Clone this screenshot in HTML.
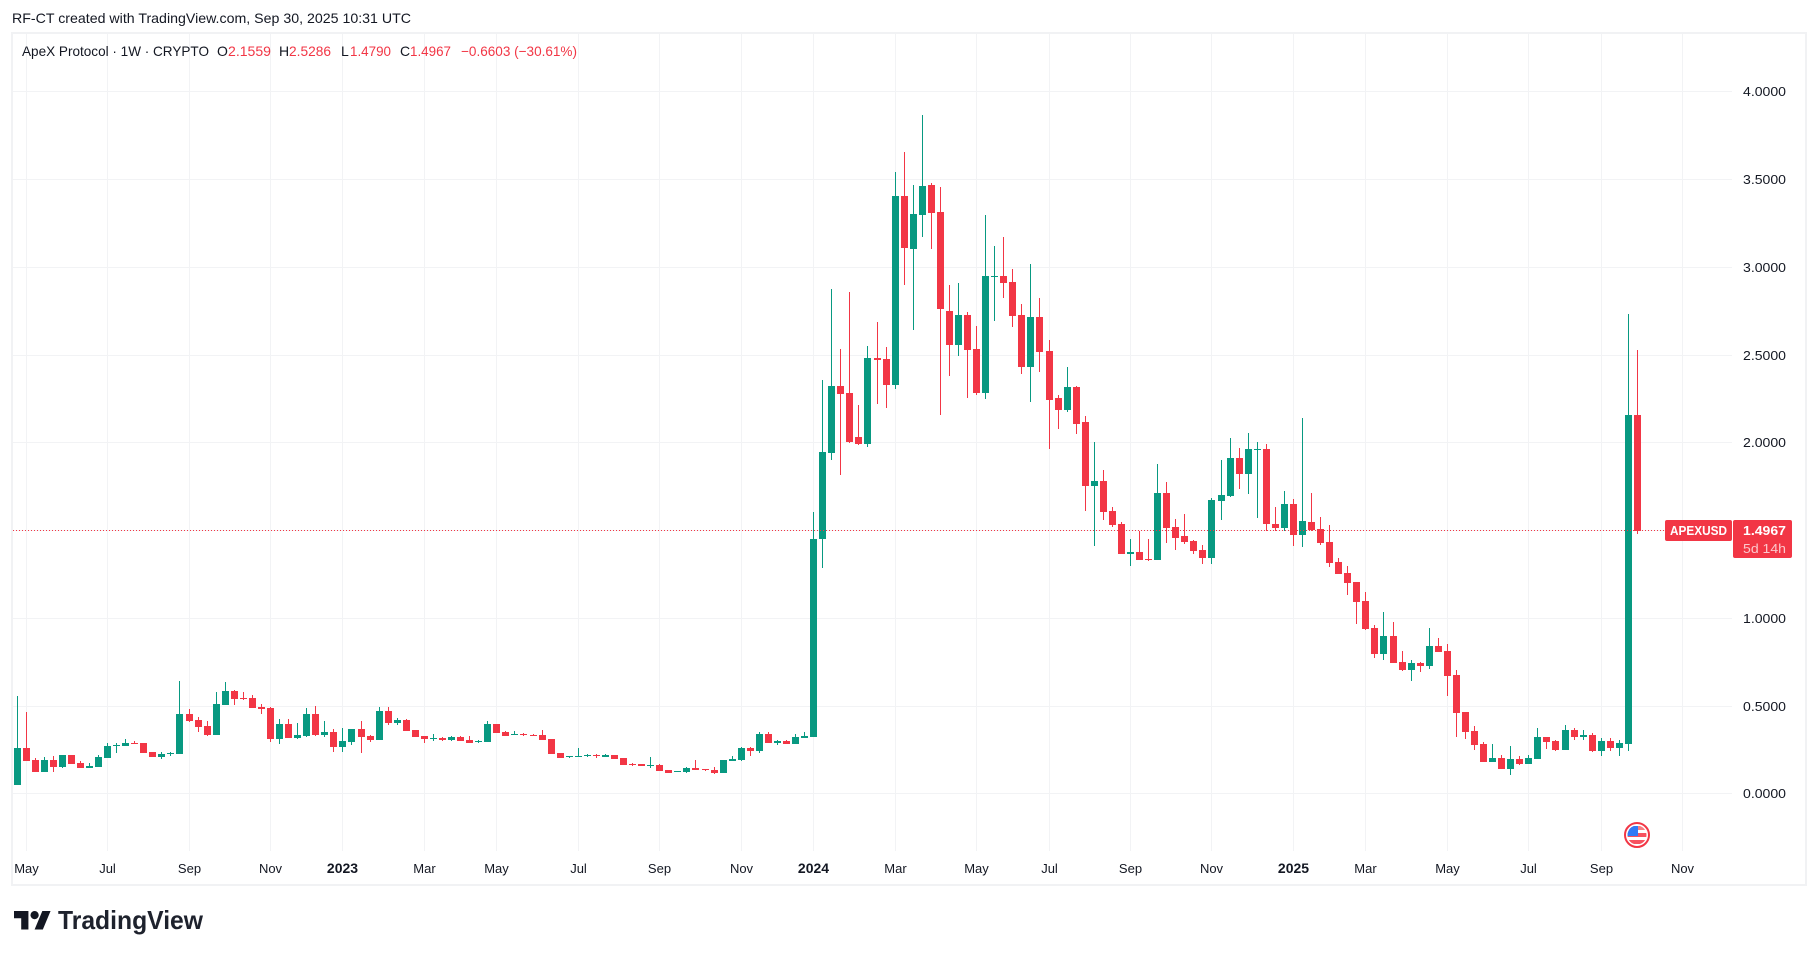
<!DOCTYPE html>
<html lang="en">
<head>
<meta charset="utf-8">
<title>ApeX Protocol 1W chart</title>
<style>
html,body{margin:0;padding:0;background:#fff;width:1818px;height:957px;overflow:hidden}
svg{display:block;font-family:"Liberation Sans",Arial,sans-serif}
text{fill:#131722;font-size:13px}
.hdr{font-size:14px}
</style>
</head>
<body>
<svg id="chart" xmlns="http://www.w3.org/2000/svg" width="1818" height="957" viewBox="0 0 1818 957">
  <rect x="0" y="0" width="1818" height="957" fill="#ffffff"/>
  <text class="hdr" x="12" y="23" textLength="399" lengthAdjust="spacingAndGlyphs">RF-CT created with TradingView.com, Sep 30, 2025 10:31 UTC</text>

  <rect x="12" y="33" width="1794" height="852" fill="none" stroke="#f1f2f4" stroke-width="2"/>

  <g id="grid"></g>
  <g id="candles"></g>
  <line id="price-line" x1="13" x2="1665" stroke="#f23645" stroke-width="1" stroke-dasharray="1 2"/>
  <g id="y-axis"></g>
  <g id="x-axis"></g>

  <g>
    <text class="hdr" x="22" y="56" textLength="187" lengthAdjust="spacingAndGlyphs">ApeX Protocol · 1W · CRYPTO</text>
    <text class="hdr" x="217" y="56">O</text>
    <text class="hdr" x="228" y="56" textLength="43" lengthAdjust="spacingAndGlyphs" style="fill:#f23645">2.1559</text>
    <text class="hdr" x="279" y="56">H</text>
    <text class="hdr" x="289" y="56" textLength="42" lengthAdjust="spacingAndGlyphs" style="fill:#f23645">2.5286</text>
    <text class="hdr" x="341" y="56">L</text>
    <text class="hdr" x="350" y="56" textLength="41" lengthAdjust="spacingAndGlyphs" style="fill:#f23645">1.4790</text>
    <text class="hdr" x="400" y="56">C</text>
    <text class="hdr" x="410" y="56" textLength="41" lengthAdjust="spacingAndGlyphs" style="fill:#f23645">1.4967</text>
    <text class="hdr" x="461" y="56" textLength="116" lengthAdjust="spacingAndGlyphs" style="fill:#f23645">−0.6603 (−30.61%)</text>
  </g>

  <g>
    <rect x="1665" y="520" width="67" height="21" rx="2" fill="#f23645"/>
    <rect x="1733" y="520" width="59" height="38" rx="2" fill="#f23645"/>
    <text x="1670" y="535" textLength="57" lengthAdjust="spacingAndGlyphs" style="fill:#fff;font-weight:bold">APEXUSD</text>
    <text x="1743" y="535" textLength="43" lengthAdjust="spacingAndGlyphs" style="fill:#fff;font-weight:bold">1.4967</text>
    <text x="1743" y="553" textLength="43" lengthAdjust="spacingAndGlyphs" style="fill:#fff;fill-opacity:.72">5d 14h</text>
  </g>

  <g>
    <circle cx="1637" cy="835" r="12" fill="#fff" stroke="#f23645" stroke-width="2"/>
    <clipPath id="flag-clip"><circle cx="1637" cy="835" r="9.5"/></clipPath>
    <g clip-path="url(#flag-clip)">
      <rect x="1627" y="826" width="20" height="4" fill="#f77c80"/>
      <rect x="1627" y="833" width="20" height="4" fill="#f7525f"/>
      <rect x="1627" y="840" width="20" height="4" fill="#f7525f"/>
      <rect x="1627" y="826" width="11" height="10" fill="#3179f5"/>
    </g>
  </g>

  <g>
    <g transform="translate(14 906.9) scale(1.03)" fill="#131722">
      <path d="M14 22H7V11H0V4h14v18zM28 22h-8l7.5-18h8L28 22z"/>
      <circle cx="20" cy="8" r="4"/>
    </g>
    <text x="58" y="929" textLength="145" lengthAdjust="spacingAndGlyphs" style="font-size:26px;font-weight:bold;fill:#1e222d">TradingView</text>
  </g>
</svg>

<script>
const opens = [
.047,.259,.190,.121,.190,.150,.219,.172,.144,.150,
.202,.270,.270,.287,.287,.236,.207,.224,.224,.452,
.418,.384,.332,.503,.583,.544,.544,.492,.486,.310,
.395,.315,.327,.452,.332,.349,.264,.293,.367,.327,
.304,.469,.401,.418,.361,.327,.310,.315,.304,.321,
.304,.293,.293,.395,.349,.332,.338,.332,.332,.310,
.230,.207,.207,.213,.219,.207,.219,.202,.167,.167,
.155,.161,.133,.121,.121,.144,.138,.133,.116,.185,
.190,.259,.242,.338,.287,.298,.281,.315,.321,1.449,
1.940,2.321,2.281,2.031,1.991,2.480,2.475,2.327,3.404,3.102,
3.295,3.466,3.313,2.749,2.554,2.726,2.532,2.282,2.942,2.947,
2.913,2.726,2.429,2.714,2.520,2.252,2.184,2.316,2.116,1.751,
1.780,1.609,1.534,1.364,1.375,1.335,1.330,1.711,1.517,1.466,
1.438,1.387,1.341,1.666,1.694,1.910,1.819,1.957,1.962,1.534,
1.512,1.649,1.472,1.546,1.506,1.432,1.318,1.255,1.204,1.096,
.942,.794,.897,.748,.703,.743,.725,.839,.811,.674,
.463,.355,.281,.179,.202,.138,.196,.167,.196,.321,
.298,.247,.361,.321,.332,.242,.298,.259,.281,2.1559];
const highs = [
.555,.463,.202,.207,.213,.219,.219,.185,.172,.219,
.287,.287,.310,.298,.287,.236,.236,.236,.640,.480,
.435,.412,.578,.635,.589,.578,.561,.509,.492,.423,
.423,.401,.486,.497,.412,.367,.372,.367,.412,.332,
.492,.492,.429,.423,.361,.327,.338,.321,.327,.327,
.327,.304,.412,.395,.355,.355,.344,.338,.361,.310,
.230,.213,.259,.224,.224,.224,.219,.202,.172,.167,
.207,.167,.133,.127,.150,.190,.138,.150,.190,.213,
.264,.264,.349,.349,.304,.304,.338,.349,1.605,2.355,
2.874,2.532,2.856,2.212,2.549,2.686,2.543,3.540,3.654,3.466,
3.865,3.478,3.455,2.896,2.908,2.743,2.663,3.295,3.119,3.170,
2.987,2.788,3.017,2.822,2.583,2.270,2.429,2.321,2.150,2.002,
1.842,1.632,1.546,1.449,1.495,1.449,1.876,1.774,1.563,1.591,
1.443,1.415,1.683,1.899,2.025,1.968,2.053,2.002,1.991,1.632,
1.723,1.677,2.139,1.711,1.574,1.529,1.341,1.296,1.204,1.147,
.959,1.033,.976,.811,.760,.748,.942,.886,.850,.703,
.463,.384,.293,.281,.219,.270,.213,.219,.372,.321,
.304,.389,.372,.361,.344,.315,.315,.304,2.731,2.5286];
const lows = [
.047,.185,.121,.121,.121,.144,.167,.144,.144,.150,
.202,.230,.270,.281,.230,.207,.196,.213,.224,.406,
.349,.327,.332,.503,.503,.532,.486,.452,.293,.281,
.315,.310,.321,.327,.321,.236,.236,.276,.230,.293,
.304,.389,.389,.355,.321,.287,.298,.298,.298,.298,
.287,.287,.293,.344,.327,.332,.327,.327,.304,.224,
.202,.202,.207,.207,.202,.207,.196,.161,.155,.155,
.144,.127,.116,.121,.116,.133,.127,.110,.116,.185,
.185,.213,.230,.287,.276,.281,.281,.315,.321,1.284,
1.900,1.814,1.997,1.985,1.974,2.218,2.195,2.304,2.896,2.640,
3.170,3.102,2.156,2.378,2.492,2.252,2.270,2.247,2.692,2.822,
2.658,2.390,2.229,2.401,1.962,2.076,2.173,2.048,1.609,1.409,
1.557,1.517,1.364,1.296,1.330,1.324,1.330,1.426,1.387,1.421,
1.364,1.307,1.307,1.557,1.689,1.734,1.706,1.568,1.495,1.495,
1.495,1.409,1.404,1.495,1.415,1.290,1.250,1.130,.965,.931,
.771,.760,.743,.697,.640,.691,.708,.805,.555,.321,
.310,.247,.179,.179,.138,.104,.161,.167,.196,.253,
.242,.247,.304,.304,.236,.213,.242,.213,.242,1.4790];
const closes = [
.259,.185,.121,.190,.150,.219,.167,.144,.155,.207,
.270,.276,.287,.281,.230,.207,.224,.230,.452,.412,
.378,.332,.509,.583,.538,.538,.486,.480,.310,.395,
.315,.332,.452,.332,.349,.264,.298,.367,.321,.304,
.469,.401,.418,.355,.321,.310,.315,.304,.321,.298,
.287,.298,.395,.344,.327,.338,.332,.327,.304,.224,
.202,.213,.213,.219,.213,.219,.196,.161,.161,.155,
.161,.127,.116,.127,.144,.133,.133,.116,.190,.196,
.259,.242,.338,.287,.298,.281,.321,.327,1.449,1.945,
2.321,2.275,2.002,1.991,2.480,2.469,2.327,3.404,3.107,3.301,
3.461,3.306,2.760,2.554,2.726,2.526,2.282,2.947,2.947,2.908,
2.720,2.429,2.714,2.515,2.241,2.184,2.316,2.104,1.751,1.780,
1.603,1.529,1.364,1.375,1.330,1.330,1.711,1.512,1.455,1.432,
1.381,1.341,1.672,1.700,1.910,1.819,1.962,1.962,1.534,1.512,
1.649,1.472,1.551,1.500,1.426,1.313,1.250,1.198,1.090,.937,
.794,.897,.743,.703,.743,.725,.839,.805,.669,.457,
.349,.276,.179,.202,.138,.196,.167,.202,.321,.293,
.247,.361,.321,.332,.242,.298,.259,.287,2.1559,1.4967];
const priceTicks = [0, 0.5, 1, 1.5, 2, 2.5, 3, 3.5, 4];
const priceTickLabels = ["0.0000","0.5000","1.0000",null,"2.0000","2.5000","3.0000","3.5000","4.0000"];
const timeTickBars = [1,10,19,28,36,45,53,62,71,80,88,97,106,114,123,132,141,149,158,167,175,184];
const timeTickLabels = ["May","Jul","Sep","Nov","2023","Mar","May","Jul","Sep","Nov","2024","Mar","May","Jul","Sep","Nov","2025","Mar","May","Jul","Sep","Nov"];
const lastPrice = 1.4967;

const NS = "http://www.w3.org/2000/svg";
function xBar(i){ return 17 + Math.floor(i * (9 + 1/19) + 1e-6); }
function yPrice(v){ return Math.round(793.33 - 175.5 * v); }
function rect(parent, x, y, w, h, fill){
  const r = document.createElementNS(NS, "rect");
  r.setAttribute("x", x);
  r.setAttribute("y", y);
  r.setAttribute("width", w);
  r.setAttribute("height", h);
  r.setAttribute("fill", fill);
  r.setAttribute("shape-rendering", "crispEdges");
  parent.appendChild(r);
  return r;
}

const grid = document.getElementById("grid");
const GRID_COLOR = "#f2f3f5";
priceTicks.forEach(function(v){
  const line = rect(grid, 13, yPrice(v), 1719, 1, GRID_COLOR);
  
  
});
timeTickBars.forEach(function(b){
  const line = rect(grid, xBar(b), 34, 1, 817, GRID_COLOR);
  
  
});

const candleLayer = document.getElementById("candles");
const UP = "#089981", DOWN = "#f23645";
opens.forEach(function(o, i){
  const c = closes[i];
  const color = c >= o ? UP : DOWN;
  const g = document.createElementNS(NS, "g");
  
  
  const px = xBar(i);
  const wickTop = yPrice(highs[i]);
  const wickBottom = yPrice(lows[i]);
  const wick = rect(g, px, wickTop, 1, Math.max(1, wickBottom - wickTop), color);
  
  
  const bodyTop = yPrice(Math.max(o, c));
  const bodyBottom = yPrice(Math.min(o, c));
  const body = rect(g, px - 3, bodyTop, 7, Math.max(1, bodyBottom - bodyTop), color);
  
  
  candleLayer.appendChild(g);
});

const priceLine = document.getElementById("price-line");
priceLine.setAttribute("y1", yPrice(lastPrice) - 0.5);
priceLine.setAttribute("y2", yPrice(lastPrice) - 0.5);

const yAxis = document.getElementById("y-axis");
priceTicks.forEach(function(v, i){
  if (priceTickLabels[i] === null) return;
  const t = document.createElementNS(NS, "text");
  
  
  t.setAttribute("x", 1743);
  t.setAttribute("y", yPrice(v) + 5);
  t.setAttribute("textLength", 43);
  t.setAttribute("lengthAdjust", "spacingAndGlyphs");
  t.textContent = priceTickLabels[i];
  yAxis.appendChild(t);
});

const xAxis = document.getElementById("x-axis");
timeTickBars.forEach(function(b, i){
  const label = timeTickLabels[i];
  const isYear = /^\d{4}$/.test(label);
  const t = document.createElementNS(NS, "text");
  
  
  t.setAttribute("x", xBar(b) + 0.5);
  t.setAttribute("y", 873);
  t.setAttribute("text-anchor", "middle");
  if (isYear) {
    t.style.fontWeight = "bold";
    t.style.fontSize = "14px";
  }
  t.textContent = label;
  xAxis.appendChild(t);
});
</script>
</body>
</html>
